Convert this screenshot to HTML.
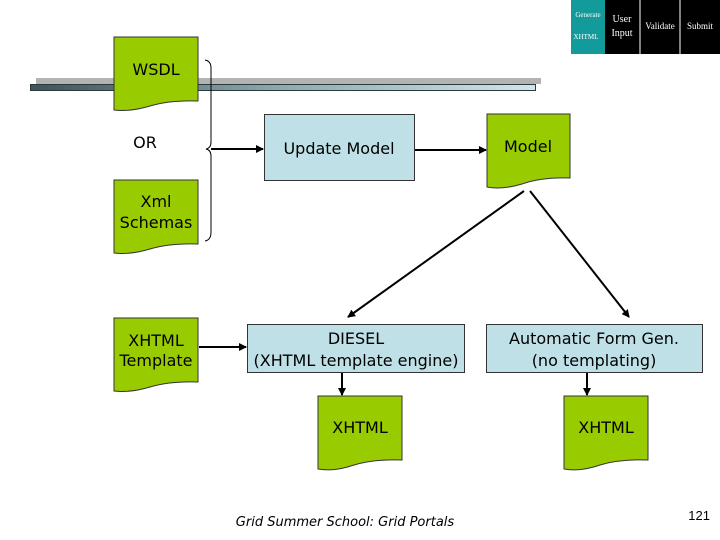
<!DOCTYPE html>
<html><head><meta charset="utf-8"><style>
html,body{margin:0;padding:0;background:#fff;}
svg{display:block;}
text{font-family:"DejaVu Sans","Liberation Sans",sans-serif;}
</style></head><body>
<svg width="720" height="540" viewBox="0 0 720 540" xmlns="http://www.w3.org/2000/svg">
<defs>
<marker id="ar" markerWidth="8" markerHeight="8" refX="7" refY="4" orient="auto" markerUnits="userSpaceOnUse">
<path d="M0,0 L8,4 L0,8 Z" fill="#000"/></marker>
<linearGradient id="bar" x1="0" x2="1" y1="0" y2="0">
<stop offset="0" stop-color="#3f5358"/><stop offset="0.5" stop-color="#8fa9ad"/><stop offset="1" stop-color="#cfe6ea"/></linearGradient>
</defs>
<rect x="571" y="0" width="34" height="54" fill="#139a9a"/>
<rect x="605" y="0" width="115" height="54" fill="#000"/>
<line x1="640" y1="0" x2="640" y2="54" stroke="#fff" stroke-width="1"/>
<line x1="680" y1="0" x2="680" y2="54" stroke="#fff" stroke-width="1"/>
<g fill="#fff">
<text x="588" y="17" text-anchor="middle" font-size="7" style="font-family:'Liberation Serif',serif">Generate</text>
<text x="586" y="39" text-anchor="middle" font-size="7" style="font-family:'Liberation Serif',serif">XHTML</text>
<text x="622" y="22" text-anchor="middle" font-size="10" style="font-family:'Liberation Serif',serif">User</text>
<text x="622" y="36" text-anchor="middle" font-size="10" style="font-family:'Liberation Serif',serif">Input</text>
<text x="660" y="29" text-anchor="middle" font-size="9" style="font-family:'Liberation Serif',serif">Validate</text>
<text x="700" y="29" text-anchor="middle" font-size="9" style="font-family:'Liberation Serif',serif">Submit</text>
</g>
<rect x="36" y="78" width="505" height="6" fill="#b3b3b3"/>
<rect x="30.5" y="84.5" width="505" height="6" fill="url(#bar)" stroke="#2a3a3e" stroke-width="1"/>
<g fill="#99cc00" stroke="#333" stroke-width="1">
<path d="M114,37 H198 V101 Q170,100 150,106 Q130,112 114,110 Z"/>
<path d="M114,180 H198 V244 Q170,243 150,249 Q130,255 114,253 Z"/>
<path d="M114,318 H198 V382 Q170,381 150,387 Q130,393 114,391 Z"/>
<path d="M487,114 H570 V178 Q542,177 522,184 Q502,190 487,187 Z"/>
<path d="M318,396 H402 V460 Q374,459 354,465 Q334,472 318,469 Z"/>
<path d="M564,396 H648 V460 Q620,459 600,465 Q580,472 564,469 Z"/>
</g>
<g fill="#bfe0e6" stroke="#333" stroke-width="1">
<rect x="264.5" y="114.5" width="150" height="66"/>
<rect x="247.5" y="324.5" width="217" height="48"/>
<rect x="486.5" y="324.5" width="216" height="48"/>
</g>
<path d="M205,60 Q211,61 211,68 V142 Q211,148 206,149 Q211,150 211,156 V232 Q211,240 205,241" fill="none" stroke="#000" stroke-width="1"/>
<g stroke="#000" stroke-width="2" fill="none" marker-end="url(#ar)">
<line x1="211" y1="149" x2="263" y2="149"/>
<line x1="415" y1="150" x2="486" y2="150"/>
<line x1="524" y1="191" x2="348" y2="317"/>
<line x1="530" y1="191" x2="629" y2="317"/>
<line x1="199" y1="347" x2="246" y2="347"/>
<line x1="342" y1="373" x2="342" y2="395"/>
<line x1="587" y1="373" x2="587" y2="395"/>
</g>
<g font-size="16" fill="#000" text-anchor="middle">
<text x="156" y="75">WSDL</text>
<text x="145" y="148">OR</text>
<text x="156" y="207">Xml</text>
<text x="156" y="228">Schemas</text>
<text x="156" y="346">XHTML</text>
<text x="156" y="366">Template</text>
<text x="339" y="154">Update Model</text>
<text x="528" y="152">Model</text>
<text x="356" y="344">DIESEL</text>
<text x="356" y="366">(XHTML template engine)</text>
<text x="594" y="344">Automatic Form Gen.</text>
<text x="594" y="366">(no templating)</text>
<text x="360" y="433">XHTML</text>
<text x="606" y="433">XHTML</text>
</g>
<text x="345" y="526" font-size="13" font-style="italic" text-anchor="middle">Grid Summer School: Grid Portals</text>
<text x="710" y="520" font-size="13" text-anchor="end" style="font-family:'Liberation Sans',sans-serif">121</text>
</svg>
</body></html>
